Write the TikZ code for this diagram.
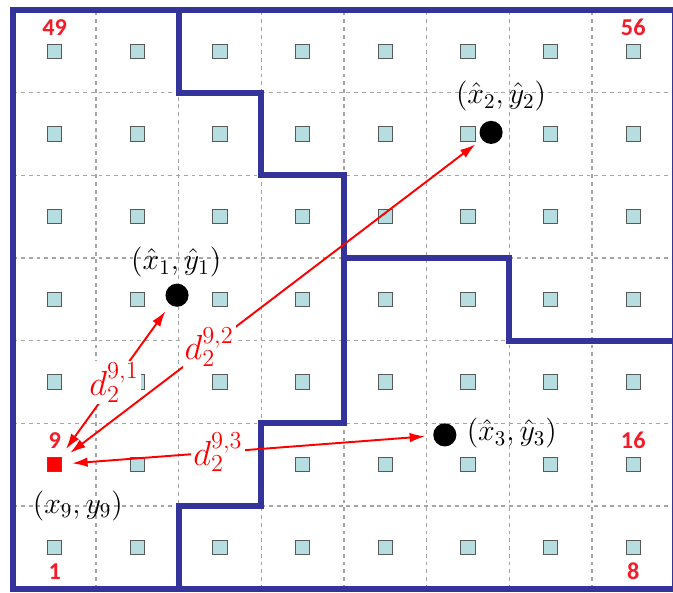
\RequirePackage{fix-cm}
\documentclass[tikz,border=0pt]{standalone}
\usepackage{fontspec}
\newfontfamily\numfont{Carlito}
\usepackage{tikz}
\usetikzlibrary{arrows.meta}
\definecolor{partblue}{HTML}{333399}
\definecolor{gridgray}{HTML}{A6A6A6}
\definecolor{cellfill}{HTML}{B6DDE0}
\definecolor{cellline}{HTML}{595959}
\definecolor{markred}{HTML}{FF0000}
\definecolor{numred}{HTML}{F21D2B}

\begin{document}
\begin{tikzpicture}[x=1.5cm, y=1.5cm,
  gridline/.style={draw=gridgray, line width=0.7pt, dash pattern=on 2pt off 2pt},
  partition/.style={draw=partblue, line width=3pt, line join=miter},
  cell/.style={rectangle, draw=cellline, fill=cellfill, line width=0.6pt,
    minimum size=0.26cm, inner sep=0pt},
  anchorpt/.style={circle, fill=black, minimum size=0.42cm, inner sep=0pt},
  numlab/.style={text=numred, font=\numfont\bfseries\fontsize{12.5}{14}\selectfont,
    inner sep=0pt},
  coordlab/.style={font=\fontsize{15.5}{18}\selectfont, inner sep=1pt},
  dist/.style={draw=markred, line width=1pt,
    {Latex[length=8pt,width=5pt]}-{Latex[length=8pt,width=5pt]},
    shorten <=5pt, shorten >=4pt},
  distlab/.style={text=markred, fill=white, font=\fontsize{18}{20}\selectfont,
    inner sep=1pt},
]
  \useasboundingbox (-0.162,-0.041) rectangle (7.981,7.122);

  % Grid
  \draw[gridline, step=1.5cm] (0,0) grid (8,7);

  % Partition
  \draw[partition] (0,0) rectangle (8,7);
  \draw[partition] (2,7) -- (2,6) -- (3,6) -- (3,5) -- (4,5) -- (4,2)
    -- (3,2) -- (3,1) -- (2,1) -- (2,0);
  \draw[partition] (4,4) -- (6,4) -- (6,3) -- (8,3);

  % Cells
  \foreach \row in {0,...,6}
    \foreach \col in {0,...,7}
      \node[cell] (s\row\col) at (\col+0.5,\row+0.5) {};
  \node[cell, fill=markred] (p9) at (0.5,1.5) {};

  % Cell numbers
  \node[numlab] (n49) at (0.5,6.79) {49};
  \node[numlab] (n56) at (7.5,6.79) {56};
  \node[numlab] (n9) at (0.5,1.79) {9};
  \node[numlab] (n16) at (7.5,1.79) {16};
  \node[numlab] (n1) at (0.5,0.21) {1};
  \node[numlab] (n8) at (7.5,0.21) {8};

  % Anchor points
  \node[anchorpt] (c1) at (1.98,3.55) {};
  \node[anchorpt] (c2) at (5.78,5.52) {};
  \node[anchorpt] (c3) at (5.22,1.86) {};

  \node[coordlab] (l1) at (1.97,3.95) {$(\hat{x}_1, \hat{y}_1)$};
  \node[coordlab] (l2) at (5.90,5.96) {$(\hat{x}_2, \hat{y}_2)$};
  \node[coordlab] (l3) at (6.03,1.88) {$(\hat{x}_3, \hat{y}_3)$};
  \node[coordlab] (l9) at (0.78,1.00) {$(x_9, y_9)$};

  % Distances
  \draw[dist] (p9) -- node[distlab, pos=0.49] {$d_2^{9,1}$} (c1);
  \draw[dist] (p9) -- node[distlab, pos=0.35] {$d_2^{9,2}$} (c2);
  \draw[dist] (p9) -- node[distlab, pos=0.42] {$d_2^{9,3}$} (c3);
\end{tikzpicture}
\end{document}
